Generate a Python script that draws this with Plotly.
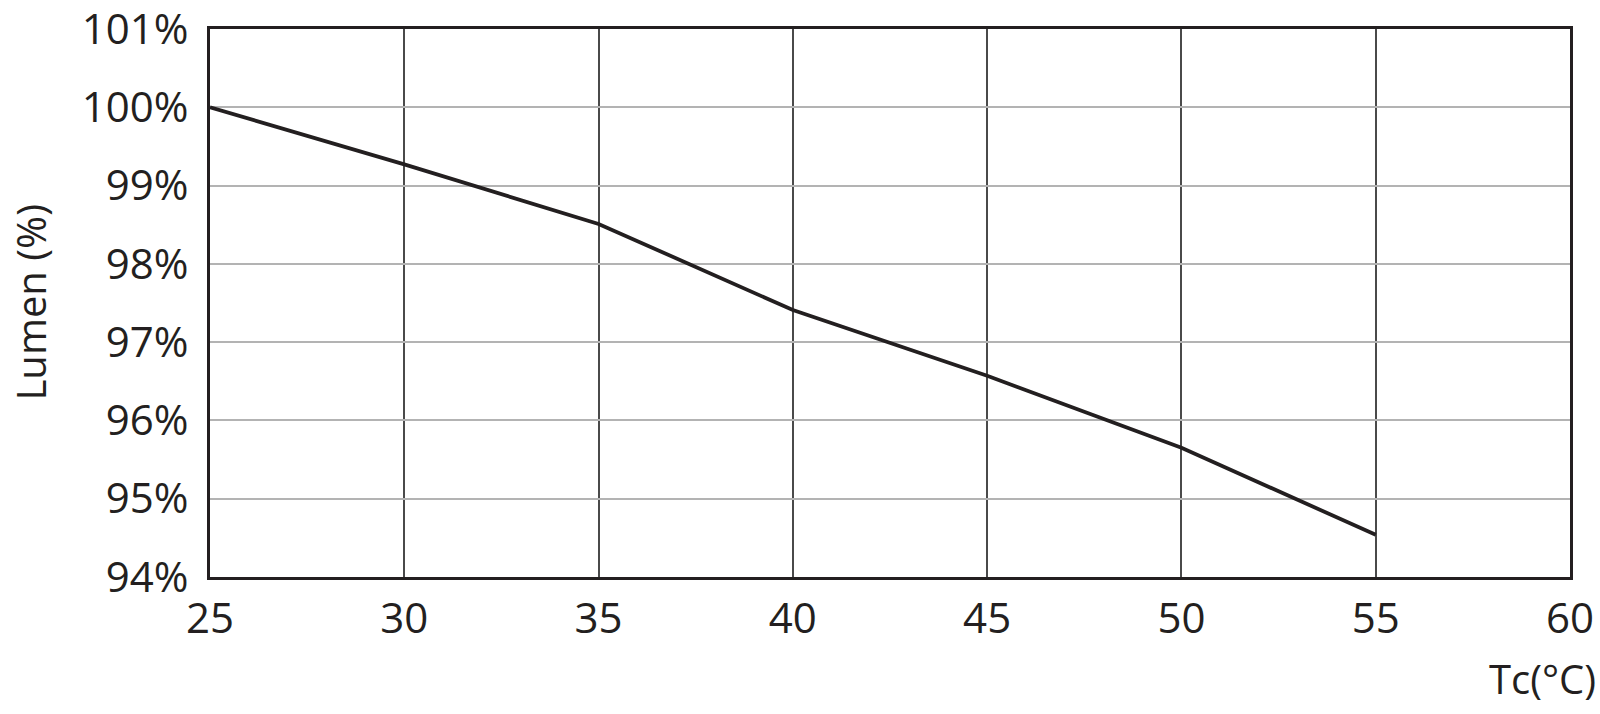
import plotly.graph_objects as go

tc = [25, 30, 35, 40, 45, 50, 55]
lumen = [100.0, 99.27, 98.51, 97.41, 96.57, 95.65, 94.54]
x_ticks = [25, 30, 35, 40, 45, 50, 55, 60]
y_ticks = [94, 95, 96, 97, 98, 99, 100, 101]
y_labels = [f"{v}%" for v in y_ticks]

FONT = "Open Sans"
INK = "#231f20"

fig = go.Figure()
fig.add_trace(go.Scatter(x=tc, y=lumen, mode="lines",
                         line=dict(color=INK, width=3.8), showlegend=False))

fig.update_layout(
    width=1600, height=714,
    margin=dict(l=210, r=30, t=29, b=137),
    paper_bgcolor="white", plot_bgcolor="white",
    font=dict(family=FONT, color=INK, size=42),
)
fig.update_xaxes(
    range=[25, 60], tickvals=x_ticks, ticktext=[str(v) for v in x_ticks],
    showgrid=True, gridcolor="#4a4a4a", gridwidth=1.5,
    showline=True, linecolor=INK, linewidth=3, mirror=True,
    ticks="", ticklabelstandoff=3, zeroline=False,
    automargin=False, ticklabeloverflow="allow",
    tickfont=dict(size=42, family=FONT, color=INK),
)
fig.update_yaxes(
    range=[94, 101], tickvals=y_ticks, ticktext=y_labels,
    showgrid=True, gridcolor="#b3b3b3", gridwidth=1.5,
    showline=True, linecolor=INK, linewidth=3, mirror=True,
    ticks="", ticklabelstandoff=10, zeroline=False,
    automargin=False, ticklabeloverflow="allow",
    tickfont=dict(size=42, family=FONT, color=INK),
)
fig.add_annotation(text="Lumen (%)", xref="paper", yref="paper",
                   x=-0.1327, y=0.5, textangle=-90, showarrow=False,
                   xanchor="center", yanchor="middle",
                   font=dict(size=40, family=FONT, color=INK))
fig.add_annotation(text="Tc(°C)", xref="paper", yref="paper",
                   x=1.0206, y=-0.186, showarrow=False,
                   xanchor="right", yanchor="middle",
                   font=dict(size=40, family=FONT, color=INK))

fig.write_html("out.html",
               config={"displayModeBar": False},
               post_script="document.body.style.margin='0';document.body.style.overflow='hidden';")
